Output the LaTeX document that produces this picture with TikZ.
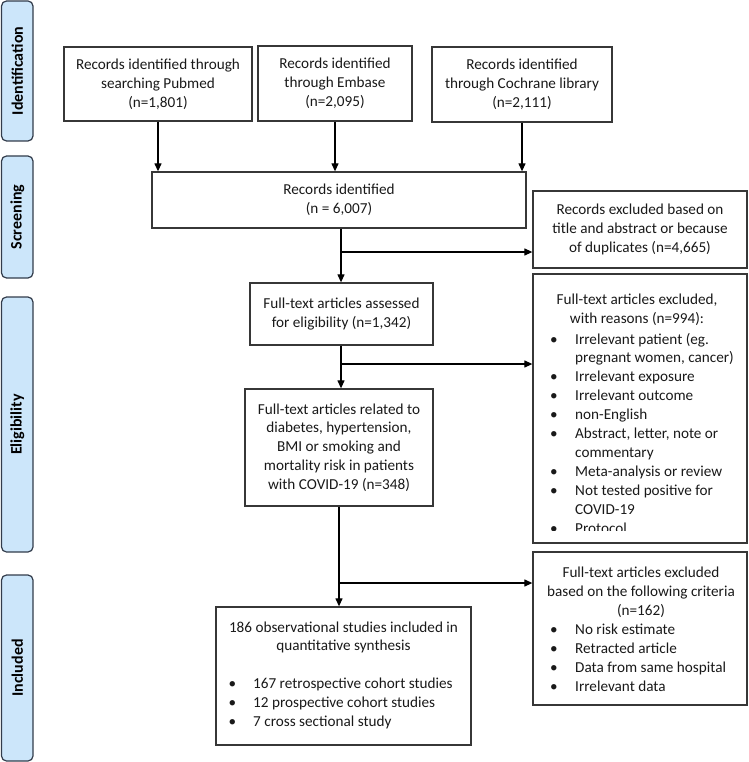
\documentclass[tikz,border=0pt]{standalone}
\usepackage{fontspec}
\setmainfont{Carlito}
\usetikzlibrary{arrows.meta}
\definecolor{barfill}{RGB}{204,230,250}
\definecolor{barline}{RGB}{50,60,75}
\definecolor{boxline}{RGB}{55,55,55}
\definecolor{txtc}{RGB}{25,25,25}
\begin{document}
\begin{tikzpicture}[x=1pt,y=-1pt,
  box/.style={draw=boxline, line width=1.3pt, inner sep=0pt, align=center, text=txtc,
    font=\fontsize{15.2}{18.8}\selectfont},
  bar/.style={draw=barline, line width=1.2pt, fill=barfill, rounded corners=5pt,
    rotate=90, inner sep=0pt, font=\fontsize{16}{18}\selectfont\bfseries, text=black},
  arr/.style={draw=black, line width=1.2pt, -{Triangle[length=8pt,width=7pt]}},
  ln/.style={draw=black, line width=1.2pt},
  txt/.style={inner sep=0pt, align=center, text=txtc, font=\fontsize{15.2}{18.8}\selectfont},
  lst/.style={inner sep=0pt, anchor=base west, align=left, text=txtc}
]
\useasboundingbox (0,0) rectangle (748,762);

% side bars
\node[bar, minimum width=140, minimum height=31.5] (bid) at (17.25,71) {Identification};
\node[bar, minimum width=122, minimum height=31.5] (bsc) at (17.25,217) {Screening};
\node[bar, minimum width=255, minimum height=31.5] (bel) at (17.25,424.5) {Eligibility};
\node[bar, minimum width=186, minimum height=31.5] (bin) at (17.25,668) {Included};

% top boxes
\node[box, minimum width=188, minimum height=74] (pub) at (158,84)
  {Records identified through\\searching Pubmed\\(n=1,801)};
\node[box, minimum width=154, minimum height=75] (emb) at (335,83.5)
  {Records identified\\through Embase\\(n=2,095)};
\node[box, minimum width=180, minimum height=75] (coc) at (522,84.5)
  {Records identified\\through Cochrane library\\(n=2,111)};

\node[box, minimum width=374, minimum height=56] (ident) at (339,200)
  {Records identified\\(n = 6,007)};
\node[box, minimum width=214, minimum height=77] (excl1) at (640,229.5)
  {Records excluded based on\\title and abstract or because\\of duplicates (n=4,665)};

\node[box, minimum width=183, minimum height=62] (assess) at (341.5,314)
  {Full-text articles assessed\\for eligibility (n=1,342)};

\node[box, minimum width=214, minimum height=269] (excl2) at (640,408.5) {};
\node[txt] (e2h) at (637,310) {Full-text articles excluded,\\with reasons (n=994):};
\begin{scope}
\clip (533,274) rectangle (747,530.5);
\node[lst] (e2l) at (550,344) {\fontsize{15.2}{18.9}\selectfont
  \begin{tabular}[t]{@{}p{25pt}@{}l@{}}
  \textbullet & Irrelevant patient (eg.\\
              & pregnant women, cancer)\\
  \textbullet & Irrelevant exposure\\
  \textbullet & Irrelevant outcome\\
  \textbullet & non-English\\
  \textbullet & Abstract, letter, note or\\
              & commentary\\
  \textbullet & Meta-analysis or review\\
  \textbullet & Not tested positive for\\
              & COVID-19\\
  \textbullet & Protocol
  \end{tabular}};
\end{scope}

\node[box, minimum width=188, minimum height=117] (rel) at (339,447.5)
  {Full-text articles related to\\diabetes, hypertension,\\BMI or smoking and\\mortality risk in patients\\with COVID-19 (n=348)};

\node[box, minimum width=214, minimum height=153] (excl3) at (640,628.5) {};
\node[txt] (e3h) at (641,592) {Full-text articles excluded\\based on the following criteria\\(n=162)};
\node[lst] (e3l) at (550,634) {\fontsize{15.2}{19.3}\selectfont
  \begin{tabular}[t]{@{}p{25pt}@{}l@{}}
  \textbullet & No risk estimate\\
  \textbullet & Retracted article\\
  \textbullet & Data from same hospital\\
  \textbullet & Irrelevant data
  \end{tabular}};

\node[box, minimum width=255, minimum height=138] (incl) at (343.5,676) {};
\node[txt] (inh) at (343.5,637.5) {186 observational studies included in\\quantitative synthesis};
\node[lst] (inl) at (228.5,688) {\fontsize{15.2}{19}\selectfont
  \begin{tabular}[t]{@{}p{24.5pt}@{}l@{}}
  \textbullet & 167 retrospective cohort studies\\
  \textbullet & 12 prospective cohort studies\\
  \textbullet & 7 cross sectional study
  \end{tabular}};

% connectors
\draw[arr] (pub.south) -- (pub.south |- ident.north);
\draw[arr] (emb.south) -- (emb.south |- ident.north);
\draw[arr] (coc.south) -- (coc.south |- ident.north);

\coordinate (c1) at (341,252);
\draw[ln] (ident.south -| c1) -- (c1);
\draw[arr] (c1) -- (c1 |- assess.north);
\draw[arr] (c1) -- (c1 -| excl1.west);

\coordinate (c2) at (341,364);
\draw[ln] (assess.south -| c2) -- (c2);
\draw[arr] (c2) -- (c2 |- rel.north);
\draw[arr] (c2) -- (c2 -| excl2.west);

\coordinate (c3) at (339,583);
\draw[ln] (rel.south -| c3) -- (c3);
\draw[arr] (c3) -- (c3 |- incl.north);
\draw[arr] (c3) -- (c3 -| excl3.west);
\end{tikzpicture}
\end{document}
